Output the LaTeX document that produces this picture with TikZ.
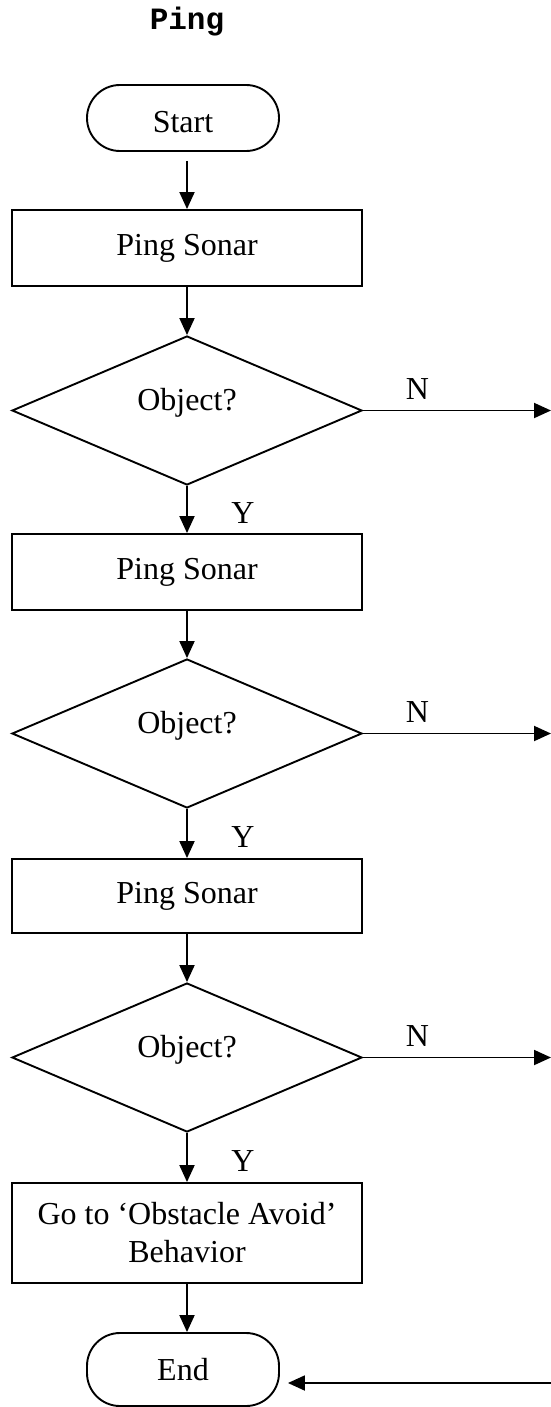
\documentclass[tikz,border=0pt]{standalone}
\usepackage{fontspec}
\setmainfont{Liberation Serif}
\newfontfamily\codefont{Liberation Mono}
\usetikzlibrary{arrows.meta,shapes.geometric}

\begin{document}
\begin{tikzpicture}[x=1pt,y=-1pt,
  every node/.style={font=\fontsize{32}{38}\selectfont},
  flow/.style={line width=1.9pt},
  arr/.style={flow,-{Triangle[length=17pt,width=15pt]}},
  proc/.style={draw,line width=1.9pt,minimum width=350pt,inner sep=0pt,align=center},
  term/.style={draw,line width=1.9pt,minimum width=192pt,rounded corners=33pt,inner sep=0pt},
  decide/.style={draw,diamond,line width=1.9pt,minimum width=350pt,minimum height=149pt,
                 inner sep=0pt,label={[yshift=8pt]center:Object?}},
  yes/.style={midway,xshift=56pt,yshift=-3.5pt},
  no/.style={pos=0.29,yshift=21.5pt},
]
\useasboundingbox (0,0) rectangle (551,1407);

% title
\node[font=\codefont\bfseries\fontsize{31}{31}\selectfont] (title) at (187,22) {Ping};

% main column
\node[term,minimum height=66pt,text height=30pt,text depth=0pt] (start) at (183,118) {Start};
\node[proc,minimum height=76pt] (p1) at (187,248) {Ping Sonar};
\node[decide] (d1) at (187,410.5) {};
\node[proc,minimum height=76pt] (p2) at (187,572) {Ping Sonar};
\node[decide] (d2) at (187,733.5) {};
\node[proc,minimum height=74pt] (p3) at (187,896) {Ping Sonar};
\node[decide] (d3) at (187,1057.5) {};
\node[proc,minimum height=100pt] (p4) at (187,1233) {Go to ‘Obstacle Avoid’\\Behavior};
\node[term,minimum height=73pt] (end) at (183,1369.5) {End};

% free ends at the right margin
\coordinate (n1) at (551,410.5);
\coordinate (n2) at (551,733.5);
\coordinate (n3) at (551,1057.5);
\coordinate (back) at (551,1383);

% downward flow
\draw[arr,shorten <=9pt] (start.south -| p1.north) -- (p1.north);
\draw[arr] (p1.south) -- (d1.north);
\draw[arr] (d1.south) -- node[yes] (y1) {Y} (p2.north);
\draw[arr] (p2.south) -- (d2.north);
\draw[arr] (d2.south) -- node[yes] (y2) {Y} (p3.north);
\draw[arr] (p3.south) -- (d3.north);
\draw[arr] (d3.south) -- node[yes] (y3) {Y} (p4.north);
\draw[arr] (p4.south) -- (end.north -| p4.south);

% "no" branches
\draw[arr] (d1.east) -- node[no] (m1) {N} (n1);
\draw[arr] (d2.east) -- node[no] (m2) {N} (n2);
\draw[arr] (d3.east) -- node[no] (m3) {N} (n3);

% return into End
\draw[arr,shorten >=8pt] (back) -- (back -| end.east);
\end{tikzpicture}
\end{document}
